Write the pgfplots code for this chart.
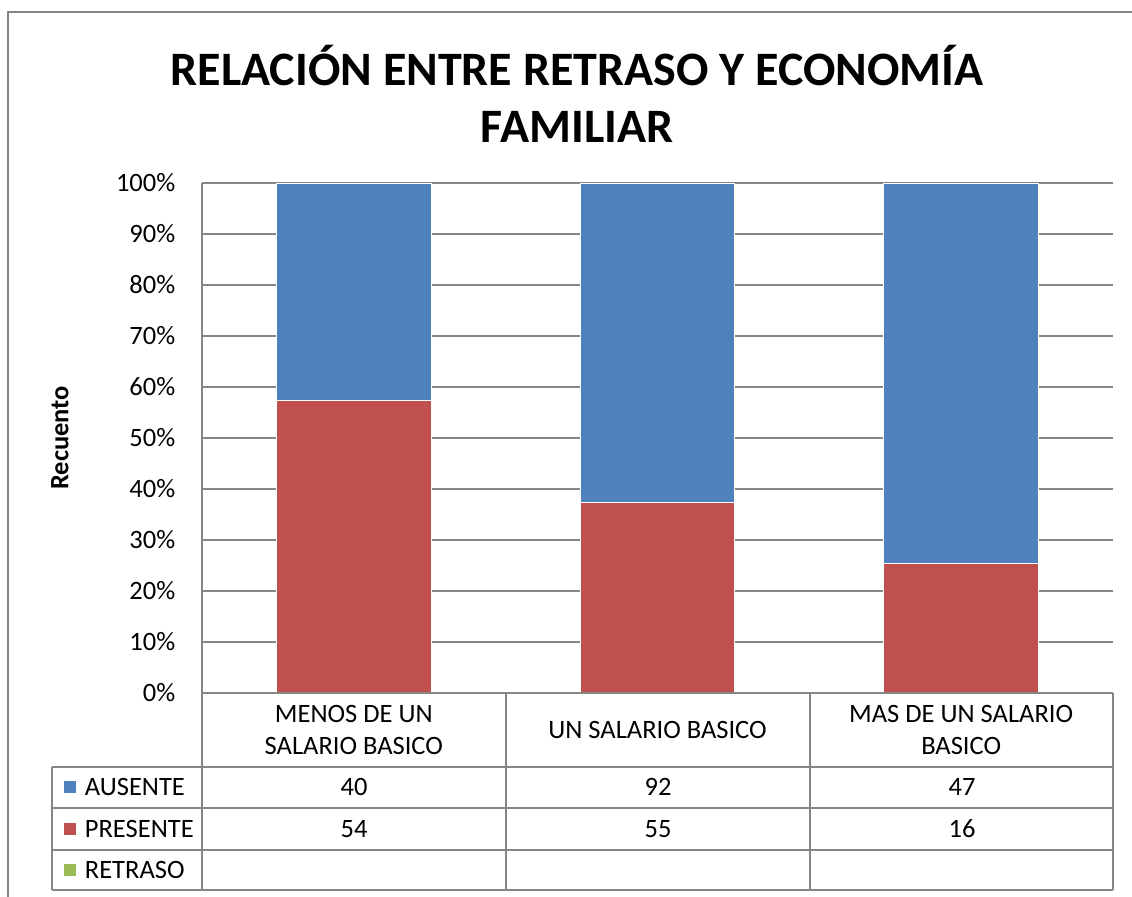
\documentclass[border=0pt]{standalone}
\usepackage{pgfplots}
\pgfplotsset{compat=1.18}
\usepackage{pgfplotstable}
\usepackage{fontspec}
\setmainfont{Carlito}
\definecolor{ausente}{RGB}{79,129,189}
\definecolor{presente}{RGB}{192,80,77}
\definecolor{retraso}{RGB}{155,187,89}
\definecolor{gridc}{RGB}{134,134,134}
\pgfplotstableread{
x A P
0 40 54
1 92 55
2 47 16
}\datatab
\begin{document}
\begin{tikzpicture}[x=0.6pt,y=-0.6pt]
\useasboundingbox (0,0) rectangle (1132,897);
\draw[gridc, line width=1.2pt] (8,897) -- (8,12) -- (1132,12);
\node[font=\bfseries\fontsize{28.8}{34}\selectfont, align=center] at (577,94) {RELACIÓN ENTRE RETRASO Y ECONOMÍA\\FAMILIAR};
\coordinate (AX) at (202,693);
\begin{axis}[at={(AX)}, anchor=south west, scale only axis,
  width=546.6pt, height=306pt,
  xmin=-0.5, xmax=2.5, ymin=0, ymax=100,
  ybar stacked, bar width=0.51,
  axis line style={draw=none},
  major tick length=0,
  ymajorgrids, grid style={gridc, line width=0.9pt},
  ytick={0,10,...,100},
  yticklabel={\pgfmathprintnumber{\tick}\%},
  /pgf/number format/assume math mode=true,
  yticklabel style={font=\fontsize{15.9}{18}\selectfont, xshift=-12.5pt},
  xtick={0,1,2},
  xticklabels={{MENOS DE UN\\SALARIO BASICO},{UN SALARIO BASICO},{MAS DE UN SALARIO\\BASICO}},
  xticklabel style={font=\fontsize{15.9}{19}\selectfont, align=center, anchor=center, yshift=-22.2pt},
  clip=false,
]
\addplot[fill=presente, draw=white, line width=0.6pt] table[x=x, y expr={100*\thisrow{P}/(\thisrow{P}+\thisrow{A})}] {\datatab};
\addplot[fill=ausente, draw=white, line width=0.6pt] table[x=x, y expr={100*\thisrow{A}/(\thisrow{P}+\thisrow{A})}] {\datatab};
\draw[gridc, line width=0.9pt] (rel axis cs:0,0) -- (rel axis cs:0,1);
\end{axis}
\draw[gridc, line width=0.9pt] (202,693)--(1113,693) (52,767)--(1113,767) (52,808)--(1113,808) (52,850)--(1113,850) (52,890)--(1113,890)
  (202,693)--(202,890) (506,693)--(506,890) (810,693)--(810,890) (1113,693)--(1113,890) (52,767)--(52,890);
\node[rotate=90, font=\bfseries\fontsize{15.9}{18}\selectfont] at (60,438) {Recuento};
\begin{scope}[every node/.style={font=\fontsize{15.9}{18}\selectfont}]
\fill[ausente] (64,781) rectangle (76,793);
\fill[presente] (64,823) rectangle (76,835);
\fill[retraso] (64,864) rectangle (76,876);
\node[anchor=west] at (79,787) {AUSENTE};
\node[anchor=west] at (79,829) {PRESENTE};
\node[anchor=west] at (79,870) {RETRASO};
\node at (354,787) {40};
\node at (658,787) {92};
\node at (962,787) {47};
\node at (354,829) {54};
\node at (658,829) {55};
\node at (962,829) {16};
\end{scope}
\end{tikzpicture}
\end{document}
